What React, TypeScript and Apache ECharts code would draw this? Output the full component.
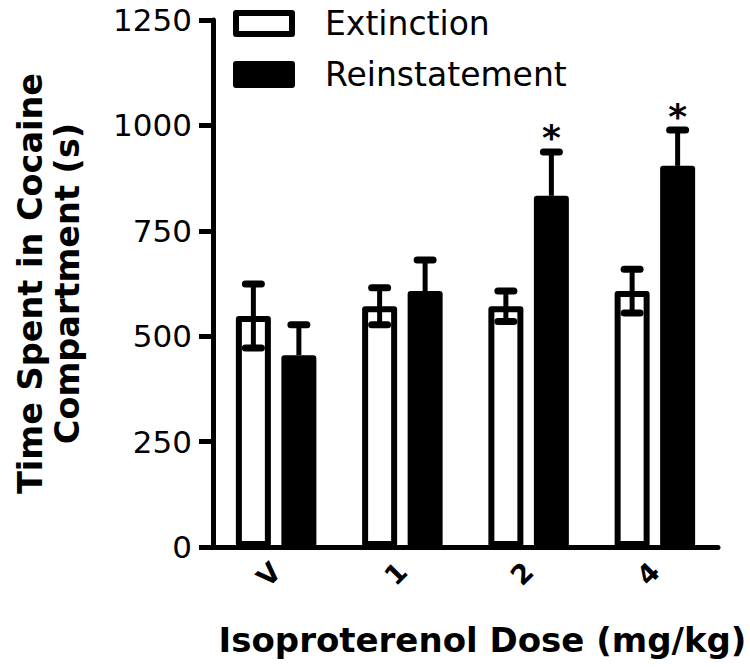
import React, { useEffect, useRef } from "react";
import * as echarts from "echarts";

const categories = ["V", "1", "2", "4"];
const extinction = [548, 571, 571, 607];
const extinctionSem = [76, 44, 36, 52];
const reinstatement = [455, 607, 833, 904];
const reinstatementSem = [72, 74, 104, 85];
const significant = [false, false, true, true];
const yTicks = [0, 250, 500, 750, 1000, 1250];

const BAR_W = 35;
const BAR_GAP = 0.3;
const OFFSET = (BAR_W + BAR_W * BAR_GAP) / 2;

function errorRenderer(offset: number, bothWays: boolean) {
  return (params: any, api: any) => {
    const idx = api.value(0);
    const val = api.value(1);
    const sem = api.value(2);
    const star = api.value(3);
    const mid = api.coord([idx, val]);
    const top = api.coord([idx, val + sem]);
    const bot = api.coord([idx, val - sem]);
    const cx = mid[0] + offset;
    const children: any[] = [
      {
        type: "line",
        shape: { x1: cx, y1: bothWays ? bot[1] : mid[1], x2: cx, y2: top[1] },
        style: { stroke: "#000", lineWidth: 5 },
      },
      {
        type: "line",
        shape: { x1: cx - 8, y1: top[1], x2: cx + 8, y2: top[1] },
        style: { stroke: "#000", lineWidth: 7, lineCap: "round" },
      },
    ];
    if (bothWays) {
      children.push({
        type: "line",
        shape: { x1: cx - 8, y1: bot[1], x2: cx + 8, y2: bot[1] },
        style: { stroke: "#000", lineWidth: 7, lineCap: "round" },
      });
    }
    if (star) {
      children.push({
        type: "text",
        x: cx,
        y: top[1] - 14,
        style: {
          text: "*",
          fill: "#000",
          fontSize: 36,
          fontWeight: "bold",
          fontFamily: "DejaVu Sans",
          align: "center",
          verticalAlign: "middle",
        },
      });
    }
    return { type: "group", children };
  };
}

export default function App() {
  const ref = useRef<HTMLDivElement>(null);
  useEffect(() => {
    if (!ref.current) return;
    const chart = echarts.init(ref.current, null, { renderer: "svg" });
    chart.setOption({
      animation: false,
      backgroundColor: "#fff",
      grid: { left: 213, right: 32, top: 20, bottom: 120 },
      legend: {
        orient: "vertical",
        left: 233,
        top: 7,
        padding: 0,
        itemWidth: 56,
        itemHeight: 21,
        itemGap: 18,
        selectedMode: false,
        textStyle: {
          fontSize: 33,
          fontFamily: "DejaVu Sans",
          color: "#000",
          padding: [0, 0, 0, 28],
        },
        data: [
          {
            name: "Extinction",
            icon: "rect",
            itemStyle: { color: "#fff", borderColor: "#000", borderWidth: 6 },
          },
          {
            name: "Reinstatement",
            icon: "rect",
            itemStyle: { color: "#000", borderColor: "#000", borderWidth: 6 },
          },
        ],
      },
      xAxis: {
        type: "category",
        data: categories,
        axisLine: { lineStyle: { color: "#000", width: 5 } },
        axisTick: { show: false },
        axisLabel: {
          rotate: 45,
          fontSize: 27,
          fontWeight: "bold",
          fontFamily: "DejaVu Sans",
          color: "#000",
          margin: 20,
        },
        name: "Isoproterenol Dose (mg/kg)",
        nameLocation: "middle",
        nameGap: 76,
        nameTextStyle: {
          fontSize: 34,
          fontWeight: "bold",
          fontFamily: "DejaVu Sans",
          color: "#000",
          padding: [0, 0, 0, 34],
        },
      },
      yAxis: {
        type: "value",
        min: yTicks[0],
        max: yTicks[yTicks.length - 1],
        interval: yTicks[1] - yTicks[0],
        splitLine: { show: false },
        axisLine: { show: true, lineStyle: { color: "#000", width: 5 } },
        axisTick: { show: true, length: 14, lineStyle: { color: "#000", width: 5 } },
        axisLabel: {
          fontSize: 31,
          fontFamily: "DejaVu Sans",
          color: "#000",
          margin: 21,
          formatter: (v: number) => String(v),
        },
        name: "Time Spent in Cocaine\nCompartment (s)",
        nameLocation: "middle",
        nameRotate: 90,
        nameGap: 127,
        nameTextStyle: {
          fontSize: 33.5,
          fontWeight: "bold",
          fontFamily: "DejaVu Sans",
          color: "#000",
          lineHeight: 37,
        },
      },
      series: [
        {
          name: "Extinction",
          type: "bar",
          data: extinction,
          barWidth: BAR_W,
          barGap: BAR_GAP * 100 + "%",
          itemStyle: { color: "#fff", borderColor: "#000", borderWidth: 6, borderJoin: "round" },
        },
        {
          name: "Reinstatement",
          type: "bar",
          data: reinstatement,
          barWidth: BAR_W,
          itemStyle: { color: "#000", borderColor: "#000", borderWidth: 6, borderJoin: "round" },
        },
        {
          type: "custom",
          renderItem: errorRenderer(-OFFSET, true),
          data: extinction.map((v, i) => [i, v, extinctionSem[i], 0]),
          z: 5,
          silent: true,
        },
        {
          type: "custom",
          renderItem: errorRenderer(OFFSET, false),
          data: reinstatement.map((v, i) => [i, v, reinstatementSem[i], significant[i] ? 1 : 0]),
          z: 5,
          silent: true,
        },
      ],
    });
    return () => chart.dispose();
  }, []);
  return <div ref={ref} style={{ width: 750, height: 667, position: "absolute", left: 0, top: 0 }} />;
}
